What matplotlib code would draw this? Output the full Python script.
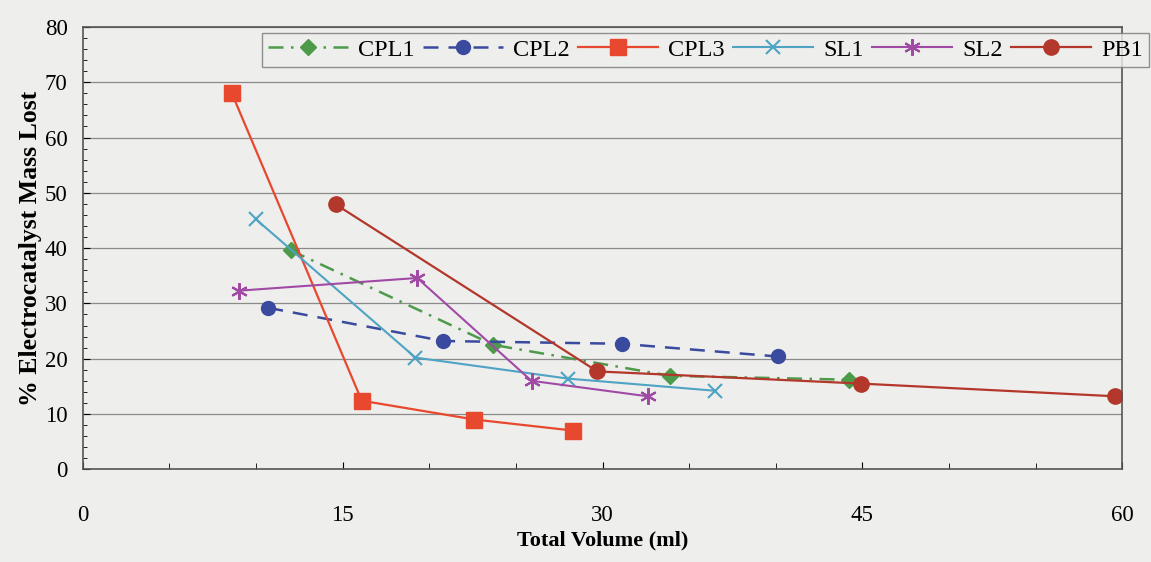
import matplotlib
matplotlib.use("Agg")
import matplotlib.pyplot as plt
from matplotlib.ticker import MultipleLocator

# --- data ---
cpl1_x = [12.0, 23.7, 33.9, 44.2]
cpl1_y = [39.6, 22.5, 16.9, 16.2]
cpl2_x = [10.7, 20.8, 31.1, 40.1]
cpl2_y = [29.2, 23.2, 22.7, 20.4]
cpl3_x = [8.6, 16.1, 22.6, 28.3]
cpl3_y = [68.0, 12.4, 9.0, 7.0]
sl1_x = [10.0, 19.2, 28.0, 36.5]
sl1_y = [45.2, 20.2, 16.4, 14.2]
sl2_x = [9.0, 19.3, 25.9, 32.6]
sl2_y = [32.3, 34.6, 16.0, 13.2]
pb1_x = [14.6, 29.7, 44.9, 59.6]
pb1_y = [47.9, 17.7, 15.5, 13.2]

plt.rcParams['font.family'] = ['Liberation Serif', 'DejaVu Serif']
BG = '#eeeeec'

fig = plt.figure(figsize=(11.51, 5.62), dpi=100, facecolor=BG)
ax = fig.add_axes([0.072, 0.165, 0.903, 0.787])
ax.set_facecolor(BG)

# Series styling (Excel-ish look)
ax.plot(cpl1_x, cpl1_y, color='#4c9a4a', linestyle=(0, (6, 3, 1, 3)), lw=1.8,
        marker='D', ms=8.5, label='CPL1')
ax.plot(cpl2_x, cpl2_y, color='#3a4a9e', linestyle=(0, (6, 4)), lw=1.8,
        marker='o', ms=10, label='CPL2')
ax.plot(cpl3_x, cpl3_y, color='#e8482e', lw=1.6,
        marker='s', ms=11, label='CPL3')
ax.plot(sl1_x, sl1_y, color='#4fa3c4', lw=1.5,
        marker='x', ms=10.5, mew=1.5, label='SL1')
ax.plot(sl2_x, sl2_y, color='#a04aa6', lw=1.5,
        marker=(6, 2, 0), ms=12, mew=1.5, label='SL2')
ax.plot(pb1_x, pb1_y, color='#b3372b', lw=1.6,
        marker='o', ms=11, label='PB1')

ax.set_xlim(0, 60)
ax.set_ylim(0, 80)
ax.xaxis.set_major_locator(MultipleLocator(15))
ax.xaxis.set_minor_locator(MultipleLocator(5))
ax.yaxis.set_major_locator(MultipleLocator(10))
ax.yaxis.set_minor_locator(MultipleLocator(2))
ax.grid(axis='y', which='major', color='#8a8a8a', lw=0.9)
ax.set_axisbelow(True)

ax.tick_params(axis='x', which='major', direction='in', length=5, pad=26, labelsize=16.5)
ax.tick_params(axis='x', which='minor', direction='in', length=4)
ax.tick_params(axis='y', which='major', direction='in', length=5, pad=11, labelsize=16.5)
ax.tick_params(axis='y', which='minor', direction='in', length=3)
for s in ax.spines.values():
    s.set_color('#555555')
    s.set_linewidth(1.2)

ax.set_xlabel('Total Volume (ml)', fontsize=16, fontweight='bold', labelpad=3)
ax.set_ylabel('% Electrocatalyst Mass Lost', fontsize=18.5, fontweight='bold', labelpad=2)

leg = ax.legend(loc='upper left', bbox_to_anchor=(0.172, 0.987), borderaxespad=0,
                ncol=6, fontsize=17.5, frameon=True, fancybox=False,
                handlelength=3.3, handletextpad=0.4, columnspacing=0.35,
                borderpad=0.25, facecolor=BG, edgecolor='#777777')
leg.set_clip_on(False)

fig.savefig('out.png', dpi=100, facecolor=BG)
